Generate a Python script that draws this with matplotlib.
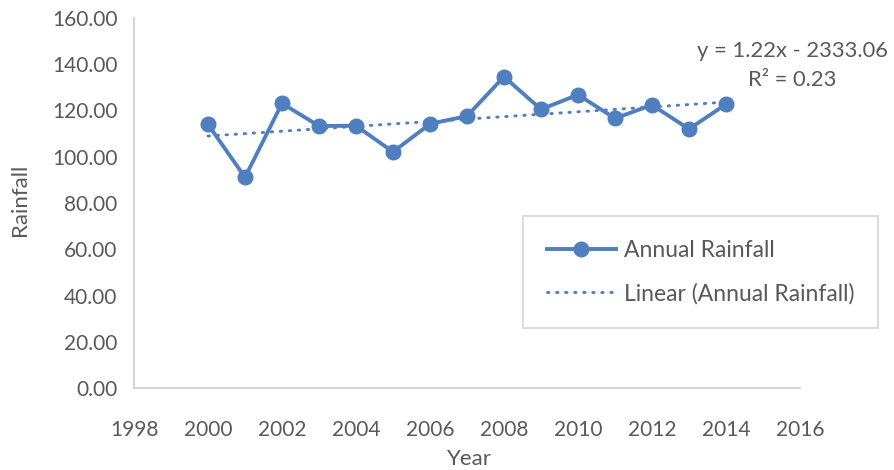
import numpy as np
import matplotlib
matplotlib.use("Agg")
import matplotlib.pyplot as plt
from matplotlib.lines import Line2D

years = [2000, 2001, 2002, 2003, 2004, 2005, 2006, 2007, 2008, 2009, 2010, 2011, 2012, 2013, 2014]
rainfall = [114.0, 91.1, 123.1, 113.3, 113.4, 102.1, 114.2, 117.6, 134.6, 120.5, 126.8, 116.6, 122.4, 112.0, 122.7]
x_ticks = [1998, 2000, 2002, 2004, 2006, 2008, 2010, 2012, 2014, 2016]
y_ticks = [0, 20, 40, 60, 80, 100, 120, 140, 160]
equation_text = "y = 1.22x - 2333.06"
r2_text = "R² = 0.23"

plt.rcParams['font.family'] = ['Lato', 'DejaVu Sans']
text_color = '#595959'
line_color = '#4F7FBE'
fs = 15

fig = plt.figure(figsize=(8.95, 4.70), dpi=100)
W, H = 895, 470
ax = fig.add_axes([134 / W, (H - 388) / H, 666 / W, 370 / H])

ax.plot(years, rainfall, color=line_color, lw=2.8, marker='o', ms=10.5,
        solid_capstyle='round', label='Annual Rainfall', zorder=3)
coef = np.polyfit(years, rainfall, 1)
trend_x = np.array([years[0], years[-1]])
ax.plot(trend_x, np.polyval(coef, trend_x), color=line_color, lw=2.1,
        linestyle=(0, (0.5, 2.6)), dash_capstyle='round',
        label='Linear (Annual Rainfall)', zorder=2)

ax.set_xlim(1998, 2016)
ax.set_ylim(0, 160)
ax.set_xticks(x_ticks)
ax.set_yticks(y_ticks)
ax.set_yticklabels([f"{v:.2f}" for v in y_ticks])
ax.tick_params(axis='both', length=0, labelsize=fs, labelcolor=text_color)
ax.tick_params(axis='y', pad=12)
ax.tick_params(axis='x', pad=23)
for s in ['top', 'right']:
    ax.spines[s].set_visible(False)
for s in ['left', 'bottom']:
    ax.spines[s].set_color('#D0D0D0')
    ax.spines[s].set_linewidth(1.3)

fig.text(20 / W, 1 - 200 / H, 'Rainfall', rotation=90, ha='center', va='center',
         fontsize=fs + 1, color=text_color)
fig.text(469 / W, 1 - 459 / H, 'Year', ha='center', va='center',
         fontsize=fs + 1, color=text_color)

fig.text(793 / W, 1 - 51 / H, equation_text, ha='center', va='center',
         fontsize=15.8, color=text_color)
fig.text(792 / W, 1 - 80 / H, r2_text, ha='center', va='center',
         fontsize=15.8, color=text_color)

handles = [Line2D([0], [0], color=line_color, lw=2.8, marker='o', ms=10.5),
           Line2D([0], [0], color=line_color, lw=2.1, linestyle=(0, (0.5, 2.6)),
                  dash_capstyle='round')]
leg = fig.legend(handles, ['Annual Rainfall', 'Linear (Annual Rainfall)'],
                 loc='upper left', bbox_to_anchor=(523 / W, 1 - 216 / H),
                 frameon=True, fancybox=False, fontsize=16.5, labelcolor=text_color,
                 handlelength=3.0, handletextpad=0.35, borderpad=1.05,
                 borderaxespad=0, labelspacing=0.95)
leg.get_frame().set_edgecolor('#D0D0D0')
leg.get_frame().set_linewidth(1.3)

fig.savefig('out.png', dpi=100)
